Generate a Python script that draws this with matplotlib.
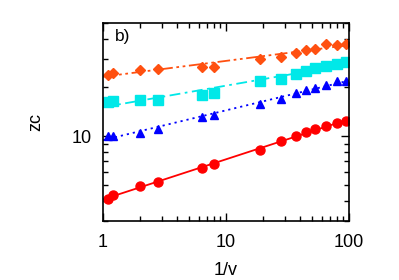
import numpy as np
import matplotlib
matplotlib.use('Agg')
import matplotlib.pyplot as plt
from matplotlib.ticker import FixedLocator, NullFormatter, FixedFormatter

plt.rcParams['font.family'] = ['Liberation Sans', 'DejaVu Sans']

# 1/v values (same for every series)
inv_v = [1.1, 1.2, 2, 2.8, 6.4, 8, 19, 28, 37, 45, 53, 65, 80, 95]

# zc values for each series
zc_red = [4.1, 4.35, 4.9, 5.25, 6.4, 6.75, 8.2, 9.3, 10.0, 10.6, 11.0, 11.6, 12.0, 12.5]
zc_blue = [10.1, 10.1, 10.5, 11.0, 13.2, 13.5, 15.8, 16.9, 18.6, 19.3, 19.7, 20.6, 21.9, 21.9]
zc_cyan = [16.3, 16.4, 16.7, 16.7, 17.9, 18.6, 21.9, 22.5, 24.1, 25.3, 26.2, 27.2, 27.8, 28.7]
zc_orange = [24.0, 24.6, 25.6, 25.9, 26.8, 26.6, 29.9, 31.0, 32.5, 34.1, 34.3, 37.3, 36.5, 37.3]

series = [
    (zc_red, '#ff0000', 'o', 6.5, '-'),
    (zc_blue, '#0000ff', '^', 6, (0, (1.2, 2.2))),
    (zc_cyan, '#00e8e8', 's', 6.5, (0, (6, 2.5, 1.5, 2.5))),
    (zc_orange, '#ff5010', 'D', 5, (0, (7, 2, 1.5, 2, 1.5, 2))),
]

fig = plt.figure(figsize=(3.99, 2.8), dpi=100)
ax = fig.add_axes([0.258, 0.211, 0.617, 0.707])

xs = np.array(inv_v)
xfit = np.logspace(0, 2, 50)
for zc, col, mk, ms, ls in series:
    ys = np.array(zc)
    # power-law fit through the points
    b, a = np.polyfit(np.log10(xs), np.log10(ys), 1)
    ax.plot(xfit, 10 ** (a + b * np.log10(xfit)), color=col, lw=1.3, ls=ls)
    ax.plot(xs, ys, ls='none', marker=mk, color=col, ms=ms, mec=col)

ax.set_xscale('log')
ax.set_yscale('log')
ax.set_xlim(1, 100)
ax.set_ylim(3, 50)

ax.xaxis.set_major_locator(FixedLocator([1, 10, 100]))
ax.xaxis.set_major_formatter(FixedFormatter(['1', '10', '100']))
ax.xaxis.set_minor_locator(FixedLocator([2, 3, 4, 5, 6, 7, 8, 9, 20, 30, 40, 50, 60, 70, 80, 90]))
ax.xaxis.set_minor_formatter(NullFormatter())
ax.yaxis.set_major_locator(FixedLocator([10]))
ax.yaxis.set_major_formatter(FixedFormatter(['10']))
ax.yaxis.set_minor_locator(FixedLocator([3, 4, 5, 6, 7, 8, 9, 20, 30, 40, 50]))
ax.yaxis.set_minor_formatter(NullFormatter())

ax.tick_params(which='both', direction='in', top=True, right=True, width=1, colors='black')
ax.tick_params(which='major', length=6, labelsize=13)
ax.tick_params(axis='x', which='major', pad=9.5)
ax.tick_params(axis='y', which='major', pad=8)
ax.tick_params(which='minor', length=3.5)
for sp in ax.spines.values():
    sp.set_linewidth(1.2)

ax.set_xlabel('1/v', fontsize=13, labelpad=8)
ax.set_ylabel('zc', fontsize=13, labelpad=20)
ax.text(0.05, 0.97, 'b)', transform=ax.transAxes, fontsize=12.5, va='top', ha='left')

fig.savefig('out.png', dpi=100)
